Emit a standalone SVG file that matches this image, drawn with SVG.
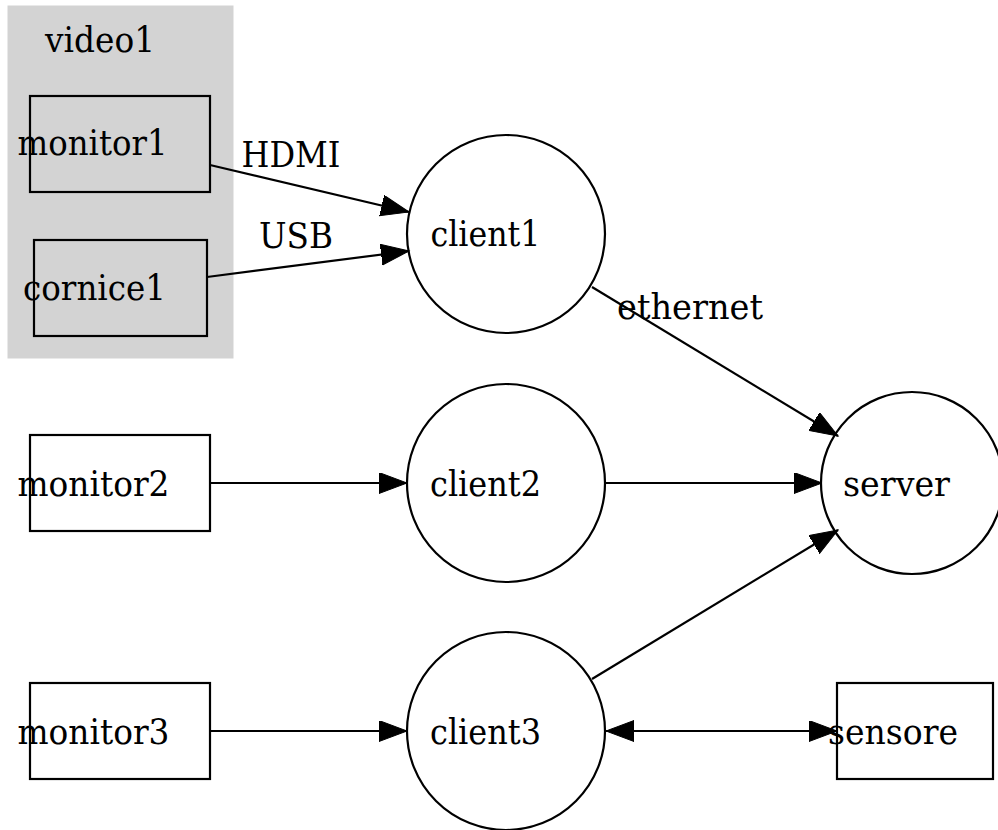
<svg xmlns="http://www.w3.org/2000/svg" width="998" height="830" viewBox="0 0 998 830">
<defs>
<style>
text{font-family:"DejaVu Serif","Liberation Serif",serif;font-size:36px;fill:#000;text-anchor:middle}
.node{fill:none;stroke:#000;stroke-width:2.2}
.edge{fill:none;stroke:#000;stroke-width:2.2}
</style>
<marker id="ah" markerUnits="userSpaceOnUse" markerWidth="30" markerHeight="22" refX="28" refY="10.5" orient="auto-start-reverse" viewBox="0 0 30 22">
<path d="M0,0 L28,10.5 L0,21 z" fill="#000" stroke="#000" stroke-width="1"/>
</marker>
</defs>
<rect width="998" height="830" fill="#fff"/>
<g id="cluster_video1">
<rect x="8" y="6" width="225" height="352" fill="#d3d3d3" stroke="#d3d3d3"/>
<text x="100" y="52" textLength="110" lengthAdjust="spacingAndGlyphs">video1</text>
</g>
<g id="monitor1">
<rect class="node" x="30" y="96" width="180" height="96"/>
<text x="92.5" y="155" textLength="150" lengthAdjust="spacingAndGlyphs">monitor1</text>
</g>
<g id="cornice1">
<rect class="node" x="34" y="240" width="173" height="96"/>
<text x="94.5" y="300" textLength="143" lengthAdjust="spacingAndGlyphs">cornice1</text>
</g>
<g id="monitor2">
<rect class="node" x="30" y="435" width="180" height="96"/>
<text x="93.5" y="496" textLength="152" lengthAdjust="spacingAndGlyphs">monitor2</text>
</g>
<g id="monitor3">
<rect class="node" x="30" y="683" width="180" height="96"/>
<text x="93.5" y="744" textLength="152" lengthAdjust="spacingAndGlyphs">monitor3</text>
</g>
<g id="client1">
<circle class="node" cx="506" cy="234" r="99"/>
<text x="485.5" y="246" textLength="110" lengthAdjust="spacingAndGlyphs">client1</text>
</g>
<g id="client2">
<circle class="node" cx="506" cy="483" r="99"/>
<text x="485.5" y="496" textLength="111" lengthAdjust="spacingAndGlyphs">client2</text>
</g>
<g id="client3">
<circle class="node" cx="506" cy="731" r="99"/>
<text x="485.5" y="744" textLength="111" lengthAdjust="spacingAndGlyphs">client3</text>
</g>
<g id="server">
<circle class="node" cx="912" cy="483" r="91"/>
<text x="896.5" y="496" textLength="107" lengthAdjust="spacingAndGlyphs">server</text>
</g>
<g id="sensore">
<rect class="node" x="837" y="683" width="156" height="96"/>
<text x="893" y="744" textLength="130" lengthAdjust="spacingAndGlyphs">sensore</text>
</g>
<g id="edges">
<line class="edge" x1="210" y1="165" x2="409" y2="212" marker-end="url(#ah)"/>
<text x="291" y="167" textLength="99" lengthAdjust="spacingAndGlyphs">HDMI</text>
<line class="edge" x1="207" y1="277" x2="409" y2="251" marker-end="url(#ah)"/>
<text x="296" y="248" textLength="74" lengthAdjust="spacingAndGlyphs">USB</text>
<line class="edge" x1="592" y1="287" x2="838" y2="436" marker-end="url(#ah)"/>
<text x="690" y="319" textLength="146" lengthAdjust="spacingAndGlyphs">ethernet</text>
<line class="edge" x1="606" y1="483" x2="822" y2="483" marker-end="url(#ah)"/>
<line class="edge" x1="592" y1="679" x2="838" y2="530" marker-end="url(#ah)"/>
<line class="edge" x1="210" y1="483" x2="407" y2="483" marker-end="url(#ah)"/>
<line class="edge" x1="210" y1="731" x2="407" y2="731" marker-end="url(#ah)"/>
<line class="edge" x1="606" y1="731" x2="837" y2="731" marker-start="url(#ah)" marker-end="url(#ah)"/>
</g>
</svg>
